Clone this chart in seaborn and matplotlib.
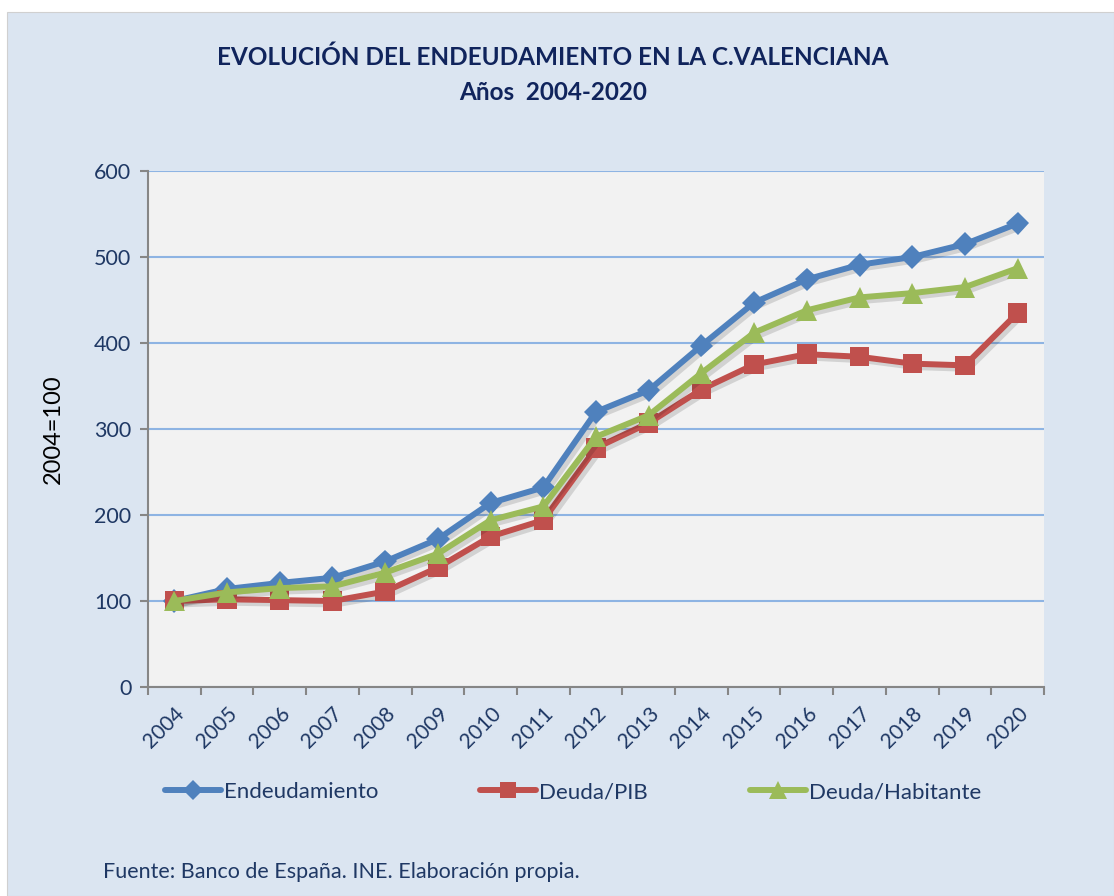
import matplotlib
matplotlib.use("Agg")
import matplotlib.pyplot as plt
import matplotlib.patheffects as pe
from matplotlib.patches import Rectangle
from matplotlib.lines import Line2D
import seaborn as sns
import pandas as pd
import numpy as np

years = list(range(2004, 2021))
endeudamiento = [100, 114, 121, 127, 146, 172, 214, 232, 320, 345, 397, 447, 474, 491, 500, 515, 539]
deuda_pib = [100, 102, 101, 100, 111, 139, 175, 194, 278, 307, 346, 375, 387, 384, 376, 374, 435]
deuda_hab = [100, 110, 115, 117, 133, 155, 194, 210, 291, 316, 365, 412, 438, 453, 458, 465, 487]
series_names = ["Endeudamiento", "Deuda/PIB", "Deuda/Habitante"]
colors = ["#4F81BD", "#C0504D", "#9BBB59"]
markers = ["D", "s", "^"]
yticks = [0, 100, 200, 300, 400, 500, 600]

sns.set_theme(style="white")
plt.rcParams['font.family'] = ['Lato', 'DejaVu Sans']

W, H = 1114, 896
fig = plt.figure(figsize=(W / 100, H / 100), dpi=100, facecolor="white")
bg = Rectangle((7 / W, 0), 1 - 7 / W, 1 - 12 / H, transform=fig.transFigure,
               facecolor="#DBE5F1", edgecolor="#D0D0D0", lw=0.8, zorder=-10)
fig.patches.append(bg)

ax = fig.add_axes([148 / W, 1 - 687 / H, (1044 - 148) / W, (687 - 171) / H])
ax.set_zorder(1)
ax.set_facecolor("#F2F2F2")

df = pd.DataFrame({"year": years * 3,
                   "value": endeudamiento + deuda_pib + deuda_hab,
                   "serie": sum([[n] * len(years) for n in series_names], [])})

msizes = {"D": 12, "s": 14, "^": 15}
for name, c, m in zip(series_names, colors, markers):
    sub = df[df["serie"] == name]
    sns.lineplot(data=sub, x="year", y="value", ax=ax, color=c, lw=4.3, marker=m,
                 markersize=msizes[m], markeredgewidth=0, legend=False, zorder=3,
                 path_effects=[pe.SimpleLineShadow(offset=(2.5, -2.5), alpha=0.13, shadow_color="black"),
                               pe.Normal()])

ax.set_xlim(2003.5, 2020.5)
ax.set_ylim(0, 600)
ax.set_yticks(yticks)
ax.yaxis.grid(True, color="#8EB4E3", lw=1.5)
ax.set_axisbelow(True)
for s in ["top", "right"]:
    ax.spines[s].set_visible(False)
for s in ["left", "bottom"]:
    ax.spines[s].set_color("#868686")
    ax.spines[s].set_linewidth(1.5)

ax.set_xticks(years)
ax.set_xticklabels([str(y) for y in years], rotation=45, ha="right", rotation_mode="anchor",
                   fontsize=15, color="#1F3864")
ax.set_xticks(np.arange(2003.5, 2021, 1), minor=True)
ax.tick_params(axis="x", which="major", length=0, pad=12)
ax.tick_params(axis="x", which="minor", length=6, width=1.5, color="#868686", bottom=True)
ax.tick_params(axis="y", length=6, width=1.5, color="#868686", left=True, labelsize=15.5,
               labelcolor="#1F3864", pad=6)
ax.set_xlabel("")
ax.set_ylabel("2004=100", fontsize=17, color="black", labelpad=22)

fig.text(553 / W, 1 - 57 / H, "EVOLUCIÓN DEL ENDEUDAMIENTO EN LA C.VALENCIANA",
         ha="center", va="center", fontsize=17.5, fontweight="bold", color="#10245C")
fig.text(553 / W, 1 - 92 / H, "Años  2004-2020",
         ha="center", va="center", fontsize=17.5, fontweight="bold", color="#10245C")

handles = [Line2D([], [], color=c, lw=4.3, marker=m, markersize=msizes[m] - 2,
                  markeredgewidth=0) for c, m in zip(colors, markers)]
fig.legend(handles, series_names, loc="center left", bbox_to_anchor=(145 / W, 1 - 792 / H),
           ncol=3, frameon=False, fontsize=16, handlelength=2.5, handletextpad=0.15,
           columnspacing=4.6, labelcolor="#1F3864")

fig.text(103 / W, 1 - 872 / H, "Fuente: Banco de España. INE. Elaboración propia.",
         ha="left", va="center", fontsize=15.5, color="#1F3864")

fig.savefig("out.png", dpi=100, facecolor=fig.get_facecolor())
